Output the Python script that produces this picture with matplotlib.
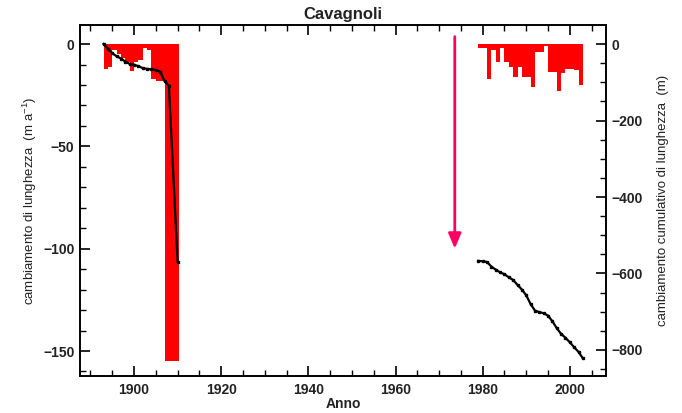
import matplotlib
matplotlib.use("Agg")
import matplotlib.pyplot as plt
from matplotlib.ticker import MultipleLocator

plt.rcParams['font.family'] = ['Liberation Sans', 'DejaVu Sans']
plt.rcParams['mathtext.fontset'] = 'custom'
plt.rcParams['mathtext.rm'] = 'Liberation Sans'
plt.rcParams['mathtext.it'] = 'Liberation Sans'

# ---- data ----
# annual length change (m/a), bars spanning [year, year+1]
bars1_years = [1893, 1894, 1895, 1896, 1897, 1898, 1899, 1900, 1901, 1902, 1903, 1904, 1905, 1906]
bars1_values = [-12, -11, -3, -5, -7, -9, -13, -9, -8, -2, -3, -17, -18, -18]
# multi-year bar
big_bar_start = 1907
big_bar_end = 1910.3
big_bar_value = -155

bars2_years = list(range(1979, 2003))
bars2_values = [-2, -2, -17, -3, -9, -2, -9, -11, -16, -11, -16, -16, -21, -4, -4, -1,
                -13.5, -13.5, -23, -14, -12, -12, -12.5, -20]

# cumulative length change (m)
cum1_years = [1893, 1894, 1895, 1896, 1897, 1898, 1899, 1900, 1901, 1902, 1903, 1904,
              1905, 1906, 1907, 1908, 1910]
cum1_values = [0, -12, -24, -32, -38, -46, -52, -54, -58, -63, -65, -66, -68, -72, -97, -110, -569]

cum2_years = list(range(1979, 2004))
cum2_values = [-567, -568, -570, -582, -590, -597, -602, -610, -617, -630, -642, -657, -680,
               -697, -701, -704, -710, -725, -743, -758, -768, -780, -793, -805, -822]

title = "Cavagnoli"
xlabel = "Anno"
ylabel_left = "cambiamento di lunghezza  (m a$^{-1}$)"
ylabel_right = "cambiamento cumulativo di lunghezza  (m)"
xticks = [1900, 1920, 1940, 1960, 1980, 2000]
yticks_left = [0, -50, -100, -150]
yticks_right = [0, -200, -400, -600, -800]

# ---- figure ----
fig = plt.figure(figsize=(6.82, 4.13), dpi=100)
ax = fig.add_axes([80/682, 1-376/413, (606-80)/682, (376-25)/413])
ax2 = ax.twinx()

ax.bar(bars1_years, bars1_values, width=1.0, align='edge', color='#ff0000', linewidth=0)
ax.bar([big_bar_start], [big_bar_value], width=big_bar_end - big_bar_start, align='edge',
       color='#ff0000', linewidth=0)
ax.bar(bars2_years, bars2_values, width=1.0, align='edge', color='#ff0000', linewidth=0)

for xs, ys in [(cum1_years, cum1_values), (cum2_years, cum2_values)]:
    ax2.plot(xs, ys, color='black', lw=1.6, marker='s', ms=1.6, mec='black', mfc='black')

ax.set_xlim(1887.6, 2008.3)
ax.set_ylim(-162.2, 9.3)
ax2.set_ylim(-868, 49.7)

ax.set_xticks(xticks)
ax.set_yticks(yticks_left)
ax2.set_yticks(yticks_right)
ax.xaxis.set_minor_locator(MultipleLocator(5))
ax.yaxis.set_minor_locator(MultipleLocator(10))
ax2.yaxis.set_minor_locator(MultipleLocator(50))

lab_col = '#222222'
ax.tick_params(axis='x', which='both', direction='in', top=True, bottom=True,
               labelsize=10, colors='black', labelcolor=lab_col, pad=5)
ax.tick_params(axis='x', which='major', length=7, width=1.2)
ax.tick_params(axis='x', which='minor', length=4, width=1.0)
ax.tick_params(axis='y', which='both', direction='in', right=False, labelsize=10,
               labelcolor=lab_col, pad=4)
ax.tick_params(axis='y', which='major', length=7, width=1.2)
ax.tick_params(axis='y', which='minor', length=4, width=1.0)
ax2.tick_params(axis='y', which='both', direction='in', labelsize=10, labelcolor=lab_col, pad=4)
ax2.tick_params(axis='y', which='major', length=7, width=1.2)
ax2.tick_params(axis='y', which='minor', length=4, width=1.0)
for lbl in ax.get_xticklabels() + ax.get_yticklabels() + ax2.get_yticklabels():
    lbl.set_fontweight('bold')

for a in (ax, ax2):
    for s in a.spines.values():
        s.set_linewidth(1.2)

ax.set_title(title, fontsize=12, fontweight='bold', color=lab_col, pad=4)
ax.set_xlabel(xlabel, fontsize=10, fontweight='bold', color=lab_col, labelpad=0)
ax.set_ylabel(ylabel_left, fontsize=9.5, color=lab_col, labelpad=3)
ax2.set_ylabel(ylabel_right, fontsize=9.5, color=lab_col, labelpad=10)

ax.annotate('', xy=(1973.6, -100), xytext=(1973.6, 3.6),
            arrowprops=dict(arrowstyle='-|>,head_width=0.38,head_length=0.9',
                            color='#ff0066', lw=2, shrinkA=0, shrinkB=0))

fig.savefig('out.png', dpi=100)
